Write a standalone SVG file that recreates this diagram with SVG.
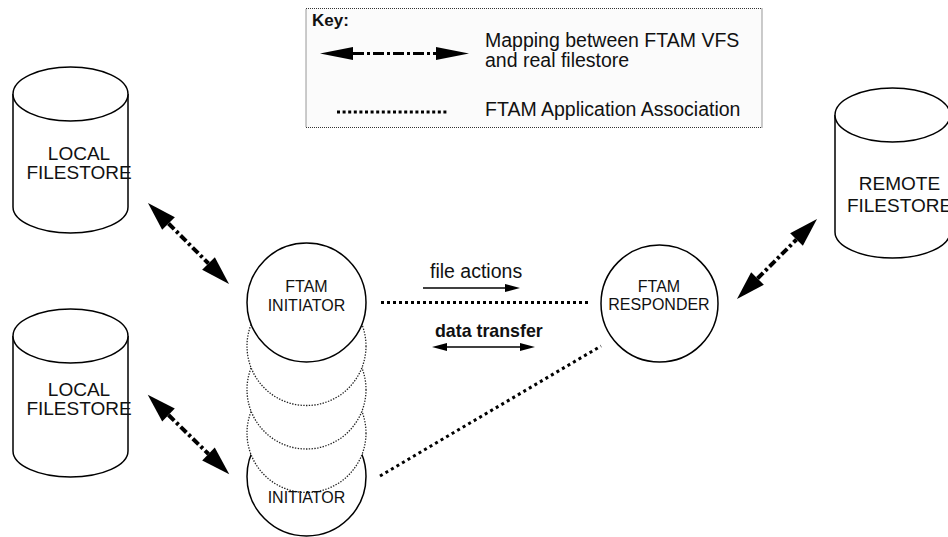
<svg xmlns="http://www.w3.org/2000/svg" width="948" height="537" viewBox="0 0 948 537">
<style>
text{font-family:"Liberation Sans",Arial,Helvetica,sans-serif;fill:#111}
.big{font-size:19px}
.mid{font-size:16px}
.c{text-anchor:middle}
.shape{fill:#fff;stroke:#000;stroke-width:1.5}
.ghost{fill:#fff;stroke:#222;stroke-width:1.3;stroke-dasharray:1.4 1.4}
.map{fill:none;stroke:#000;stroke-width:4;stroke-dasharray:8 3 3 3}
.assoc{fill:none;stroke:#000;stroke-width:3;stroke-dasharray:3 3}
.thin{fill:none;stroke:#000;stroke-width:1.5}
</style>
<defs>
<marker id="bigHead" markerUnits="userSpaceOnUse" markerWidth="30" markerHeight="18" refX="0" refY="9" orient="auto-start-reverse" overflow="visible">
<path d="M0,0 L29,9 L0,18 z" fill="#000"/>
</marker>
<marker id="keyHead" markerUnits="userSpaceOnUse" markerWidth="33" markerHeight="13" refX="0" refY="6.5" orient="auto-start-reverse" overflow="visible">
<path d="M0,0 L33,6.5 L0,13 z" fill="#000"/>
</marker>
<marker id="smallHead" markerUnits="userSpaceOnUse" markerWidth="15" markerHeight="8" refX="0" refY="4" orient="auto-start-reverse" overflow="visible">
<path d="M0,0 L15,4 L0,8 z" fill="#000"/>
</marker>
</defs>
<rect width="948" height="537" fill="#fff"/>

<g id="key">
<rect x="306" y="8.5" width="456" height="119" fill="#fbfbfb" stroke="#333" stroke-width="1" stroke-dasharray="1 1"/>
<text x="312" y="26" style="font-size:17px;font-weight:bold">Key:</text>
<line x1="353" y1="53.5" x2="436" y2="53.5" fill="none" stroke="#000" stroke-width="3" stroke-dasharray="11 3 3 3" marker-start="url(#keyHead)" marker-end="url(#keyHead)"/>
<text x="485" y="46.5" style="font-size:19.5px">Mapping between FTAM VFS</text>
<text x="485" y="66.5" style="font-size:19.5px">and real filestore</text>
<line x1="337" y1="112" x2="449" y2="112" fill="none" stroke="#000" stroke-width="3" stroke-dasharray="3 2.6"/>
<text x="485" y="116" style="font-size:19.5px">FTAM Application Association</text>
</g>

<g id="local-filestore-1">
<path class="shape" d="M13,94 L13,207 A57.5,26 0 0 0 128,207 L128,94"/>
<ellipse class="shape" cx="70.5" cy="94" rx="57.5" ry="27"/>
<text class="big c" x="79" y="160">LOCAL</text>
<text class="big c" x="79" y="179">FILESTORE</text>
</g>

<g id="local-filestore-2">
<path class="shape" d="M13,336 L13,451 A57.5,26 0 0 0 128,451 L128,336"/>
<ellipse class="shape" cx="70.5" cy="336" rx="57.5" ry="27"/>
<text class="big c" x="79" y="396">LOCAL</text>
<text class="big c" x="79" y="415">FILESTORE</text>
</g>

<g id="remote-filestore">
<path class="shape" d="M835,115 L835,232 A57.5,26 0 0 0 950,232 L950,115"/>
<ellipse class="shape" cx="892.5" cy="115" rx="57.5" ry="27"/>
<text class="big c" x="899.5" y="190">REMOTE</text>
<text class="big c" x="899.5" y="212">FILESTORE</text>
</g>

<g id="initiator-stack">
<circle class="shape" cx="306.5" cy="476.5" r="59.5"/>
<circle class="ghost" cx="306.5" cy="433" r="59.5"/>
<circle class="ghost" cx="306.5" cy="389.5" r="59.5"/>
<circle class="ghost" cx="306.5" cy="346" r="59.5"/>
<text class="mid c" x="306.5" y="503">INITIATOR</text>
</g>

<g id="ftam-initiator">
<circle class="shape" cx="306.5" cy="302.5" r="59.5"/>
<text class="mid c" x="306.5" y="292">FTAM</text>
<text class="mid c" x="306.5" y="311">INITIATOR</text>
</g>

<g id="ftam-responder">
<circle class="shape" cx="659.5" cy="303.5" r="58.5"/>
<text class="mid c" x="659" y="292">FTAM</text>
<text class="mid c" x="659" y="310">RESPONDER</text>
</g>

<g id="connectors">
<line class="map" x1="168.5" y1="223.5" x2="208.5" y2="263.5" marker-start="url(#bigHead)" marker-end="url(#bigHead)"/>
<line class="map" x1="168.5" y1="415" x2="208.5" y2="454" marker-start="url(#bigHead)" marker-end="url(#bigHead)"/>
<line class="map" x1="757.5" y1="278.5" x2="796.5" y2="239.5" marker-start="url(#bigHead)" marker-end="url(#bigHead)"/>
<line class="assoc" x1="381" y1="302.5" x2="588" y2="302.5"/>
<line class="assoc" x1="380" y1="476" x2="601" y2="346" style="stroke-dasharray:3 3.4"/>
<line class="thin" x1="423" y1="288" x2="505" y2="288" marker-end="url(#smallHead)"/>
<line class="thin" x1="447" y1="347" x2="520" y2="347" marker-start="url(#smallHead)" marker-end="url(#smallHead)"/>
<text x="430" y="278" style="font-size:19.5px">file actions</text>
<text x="435" y="337" style="font-size:17.8px;font-weight:bold">data transfer</text>
</g>
</svg>
